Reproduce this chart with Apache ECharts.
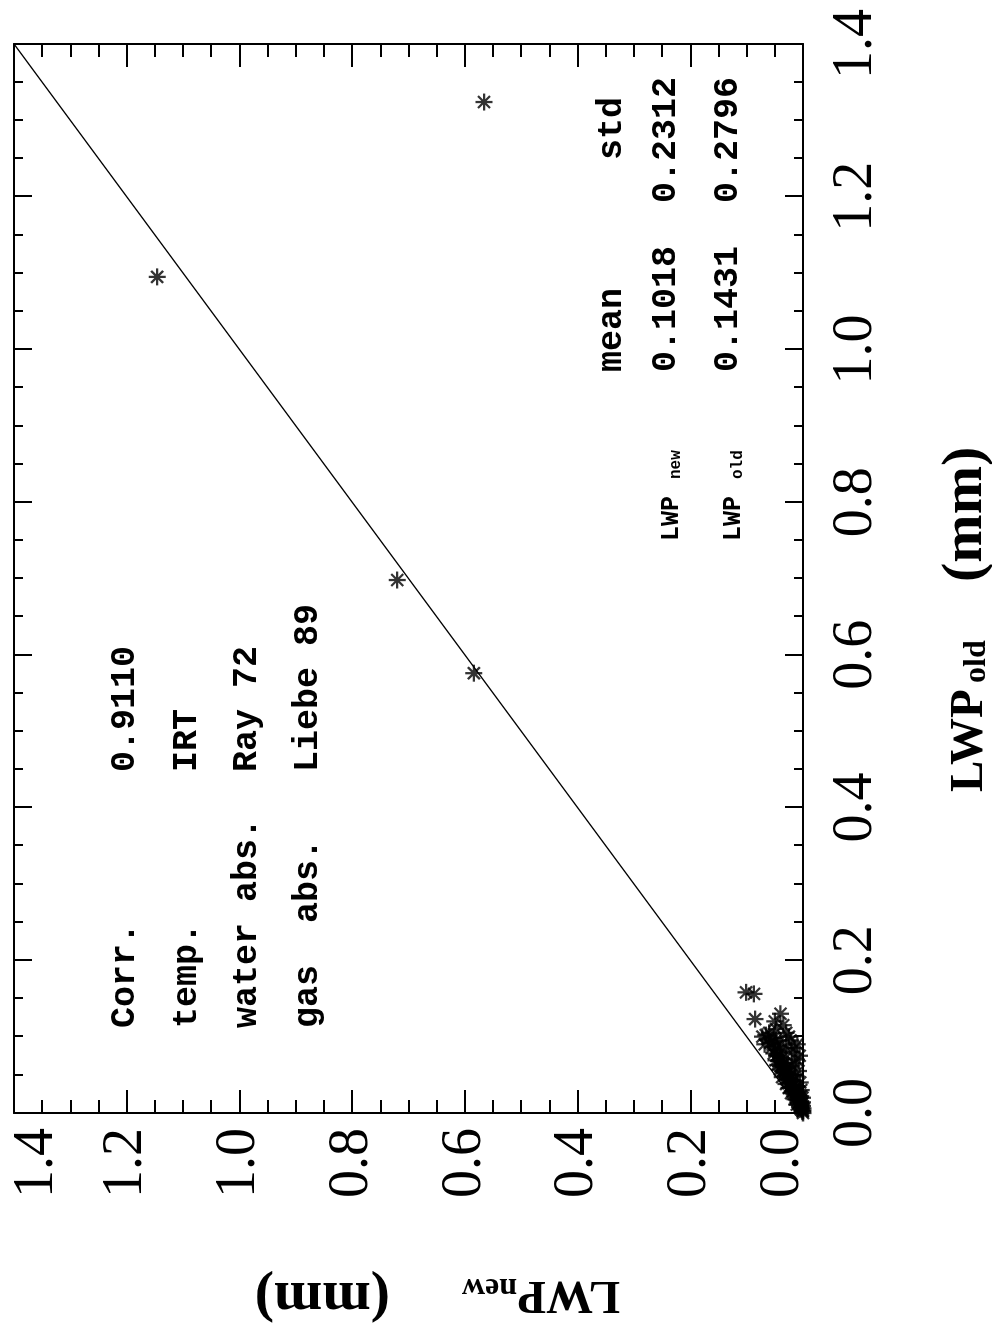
<!DOCTYPE html>
<html>
<head>
<meta charset="utf-8">
<title>LWP new vs old</title>
<script src="https://cdn.jsdelivr.net/npm/echarts@6/dist/echarts.min.js"></script>
<style>
  html, body { margin: 0; padding: 0; background: #fff; overflow: hidden; }
  body { width: 992px; height: 1325px; position: relative; }
  /* the plot is laid out in landscape and turned a quarter turn counter-clockwise */
  #chart {
    position: absolute; left: 0; top: 0;
    width: 1325px; height: 992px;
    transform-origin: 0 0;
    transform: translateY(1325px) rotate(-90deg);
  }
</style>
</head>
<body>
<div id="chart"></div>
<script>
// axis range (mm)
const axisMin = 0.0;
const axisMax = 1.4;
const axisStep = 0.2;

// liquid water path, previous retrieval (x) and new retrieval (y), mm
const lwpOld = [
  1.324, 1.095, 0.698, 0.576, 0.158, 0.156, 0.123, 0.120,
  0.105, 0.100, 0.090, 0.098, 0.092, 0.088, 0.083, 0.079, 0.075, 0.071,
  0.068, 0.064, 0.061, 0.058, 0.055, 0.052, 0.049, 0.046, 0.044, 0.041,
  0.039, 0.036, 0.034, 0.031, 0.029, 0.027, 0.025, 0.023, 0.021, 0.019,
  0.017, 0.015, 0.013, 0.012, 0.010, 0.009, 0.007, 0.006, 0.004, 0.003,
  0.002, 0.000, 0.070, 0.055, 0.040, 0.030, 0.020, 0.062, 0.048, 0.085,
  0.095, 0.090, 0.075, 0.065, 0.080, 0.100, 0.115, 0.110, 0.130,
  0.102, 0.096, 0.094, 0.086, 0.082, 0.078, 0.073, 0.069, 0.066, 0.063,
  0.060, 0.057, 0.053, 0.050, 0.047, 0.043, 0.038, 0.035, 0.033, 0.028,
  0.026, 0.022, 0.018, 0.014, 0.011, 0.008, 0.005, 0.085, 0.105, 0.095
];
const lwpNew = [
  0.566, 1.146, 0.720, 0.584, 0.101, 0.087, 0.085, 0.050,
  0.060, 0.072, 0.068, 0.052, 0.058, 0.046, 0.050, 0.041, 0.047, 0.038,
  0.043, 0.034, 0.040, 0.030, 0.036, 0.027, 0.032, 0.024, 0.029, 0.020,
  0.026, 0.017, 0.022, 0.014, 0.019, 0.011, 0.016, 0.009, 0.013, 0.006,
  0.010, 0.004, 0.008, 0.002, 0.005, 0.001, 0.003, 0.000, 0.002, 0.000,
  0.001, 0.000, 0.012, 0.008, 0.005, 0.003, 0.001, 0.020, 0.015, 0.030,
  0.040, 0.010, 0.006, 0.015, 0.020, 0.025, 0.035, 0.048, 0.040,
  0.066, 0.062, 0.050, 0.055, 0.044, 0.052, 0.040, 0.048, 0.036, 0.045,
  0.028, 0.041, 0.033, 0.022, 0.037, 0.018, 0.030, 0.012, 0.025, 0.007,
  0.021, 0.004, 0.014, 0.001, 0.011, 0.006, 0.004, 0.015, 0.030, 0.022
];

// 1:1 reference line
const oneToOne = [[axisMin, axisMin], [axisMax, axisMax]];

// retrieval settings block
const settingNames = ['Corr.', 'temp.', 'water abs.', 'gas  abs.'];
const settingValues = ['0.9110', 'IRT', 'Ray 72', 'Liebe 89'];

// statistics block
const statHeaders = ['mean', 'std'];
const statsNew = ['0.1018', '0.2312'];
const statsOld = ['0.1431', '0.2796'];

const points = lwpOld.map((x, i) => [x, lwpNew[i]]);

const SERIF = '"Liberation Serif", "Times New Roman", serif';
const MONO = '"Liberation Mono", "Courier New", monospace';

// asterisk marker: vertical, horizontal and two diagonal strokes
const STAR = 'path://M-1 -7.5L1 -7.5L1 7.5L-1 7.5Z' +
  'M-7.5 -1L7.5 -1L7.5 1L-7.5 1Z' +
  'M-4.6 -6L6 4.6L4.6 6L-6 -4.6Z' +
  'M4.6 -6L6 -4.6L-4.6 6L-6 4.6Z';

// text placed by its baseline, using the face's em-box middle
function textAt(str, x, baseline, size, family, metric, weight) {
  return {
    type: 'text', x: x, y: baseline - metric * size, z: 100,
    style: {
      text: str, fill: '#000', align: 'left', verticalAlign: 'middle',
      font: (weight || 'bold') + ' ' + size + 'px ' + family
    }
  };
}
function monoText(str, x, baseline, size) {
  return textAt(str, x, baseline, size, MONO, 0.2665);
}
function serifText(str, x, baseline, size) {
  return textAt(str, x, baseline, size, SERIF, 0.3375);
}
// serif text reading bottom-to-top; baselineX is where the glyph feet sit
function serifUp(str, baselineX, startY, size) {
  return {
    type: 'text', x: baselineX - 0.3375 * size, y: startY, rotation: Math.PI / 2, z: 100,
    style: {
      text: str, fill: '#000', align: 'left', verticalAlign: 'middle',
      font: 'bold ' + size + 'px ' + SERIF
    }
  };
}

const graphics = [];
const rowBase = [135, 197, 257, 318];
settingNames.forEach((s, i) => {
  graphics.push(monoText(s, 297, rowBase[i], 35));
  graphics.push(monoText(settingValues[i], 553, rowBase[i], 35));
});
graphics.push(monoText(statHeaders[0], 953, 622, 35));
graphics.push(monoText(statHeaders[1], 1165, 622, 35));
graphics.push(monoText(statsNew[0], 953, 676, 35));
graphics.push(monoText(statsNew[1], 1122, 676, 35));
graphics.push(monoText(statsOld[0], 953, 738, 35));
graphics.push(monoText(statsOld[1], 1122, 738, 35));
graphics.push(monoText('LWP', 784, 678, 25));
graphics.push(monoText('new', 846, 680, 16));
graphics.push(monoText('LWP', 784, 740, 25));
graphics.push(monoText('old', 846, 742, 16));

// axis titles
graphics.push(serifText('LWP', 533, 986, 47));
graphics.push(serifText('old', 642, 988, 32));
graphics.push(serifText('(mm)', 743, 986, 58));
graphics.push(serifUp('LWP', 47, 620, 47));
graphics.push(serifUp('new', 49, 517, 32));
graphics.push(serifUp('(mm)', 47, 390, 58));

const fmt = v => v.toFixed(1);
const tickFont = { fontFamily: SERIF, fontSize: 56, fontWeight: 'normal', color: '#000' };

function baseAxis(extra) {
  return Object.assign({
    type: 'value', min: axisMin, max: axisMax, interval: axisStep,
    axisLine: { show: true, onZero: false, lineStyle: { color: '#000', width: 2 } },
    splitLine: { show: false },
    minorSplitLine: { show: false }
  }, extra);
}

const chart = echarts.init(document.getElementById('chart'), null, { renderer: 'canvas' });
chart.setOption({
  animation: false,
  backgroundColor: '#fff',
  grid: { left: 212, right: 44, top: 14, bottom: 189, containLabel: false },
  xAxis: [
    baseAxis({
      position: 'bottom',
      axisTick: { show: true, inside: true, length: 18, lineStyle: { color: '#000', width: 2 } },
      minorTick: { show: true, splitNumber: 4, length: 9, lineStyle: { color: '#000', width: 2 } },
      axisLabel: Object.assign({ margin: 25, formatter: fmt }, tickFont)
    }),
    baseAxis({
      position: 'top',
      axisTick: { show: true, inside: true, length: 18, lineStyle: { color: '#000', width: 2 } },
      minorTick: { show: true, splitNumber: 4, length: 9, lineStyle: { color: '#000', width: 2 } },
      axisLabel: { show: false }
    })
  ],
  yAxis: [
    baseAxis({
      position: 'left',
      axisTick: { show: true, inside: true, length: 23, lineStyle: { color: '#000', width: 2 } },
      minorTick: { show: true, splitNumber: 4, length: 13, lineStyle: { color: '#000', width: 2 } },
      axisLabel: Object.assign({
        margin: 15,
        formatter: v => {
          const s = fmt(v);
          if (Math.abs(v - axisMax) < 1e-9) return '{hi|' + s + '}';
          if (Math.abs(v - axisMin) < 1e-9) return '{lo|' + s + '}';
          return s;
        },
        rich: {
          hi: Object.assign({ padding: [46, 0, 0, 0] }, tickFont),
          lo: Object.assign({ padding: [0, 0, 40, 0] }, tickFont)
        }
      }, tickFont)
    }),
    baseAxis({
      position: 'right',
      axisTick: { show: true, inside: true, length: 23, lineStyle: { color: '#000', width: 2 } },
      minorTick: { show: true, splitNumber: 4, length: 13, lineStyle: { color: '#000', width: 2 } },
      axisLabel: { show: false }
    })
  ],
  series: [
    {
      type: 'line',
      data: oneToOne,
      xAxisIndex: 0, yAxisIndex: 0,
      symbol: 'none',
      lineStyle: { color: '#000', width: 1.5 },
      z: 2
    },
    {
      type: 'scatter',
      data: points,
      xAxisIndex: 0, yAxisIndex: 0,
      symbol: STAR,
      symbolSize: 17,
      itemStyle: { color: '#000' },
      z: 3
    }
  ],
  graphic: graphics
});
</script>
</body>
</html>
